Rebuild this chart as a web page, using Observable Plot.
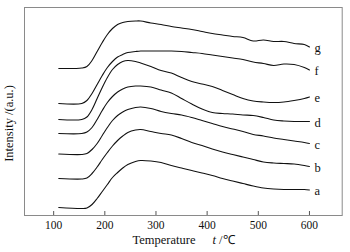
<!DOCTYPE html>
<html><head><meta charset="utf-8">
<script src="https://cdn.jsdelivr.net/npm/d3@7"></script>
<script src="https://cdn.jsdelivr.net/npm/@observablehq/plot@0.6"></script>
<style>html,body{margin:0;padding:0;background:#fff;}</style>
</head><body><div id="chart"></div>
<script>
// Temperature grid (°C)
const temperature = [110,155,165,175,185,195,205,215,225,235,245,260,270,290,310,330,350,370,390,410,430,450,470,490,510,530,550,570,590,600];
// Intensity (a.u.), curves stacked as in the figure
const seriesA = [8,7,7.5,11,17,24,31,38,43,47.5,51,54,55,54.5,53,50,47.5,45,42.5,40,37,34.5,32,29.5,27.5,26.5,26,26,26,25.5];
const seriesB = [37,36.5,37.5,42,48.5,56,63,69.5,75,79.5,83,85.5,86,84,82,80.5,77,73,70,66.5,63.5,61,58.5,56,53.5,52.5,52,51.5,50,49];
const seriesC = [61.5,61,62,66,72,80,88,95,100,103.5,106,108,108.5,107,104,102,100.5,98,95,92,89,86.5,84,81,79.5,77.5,76,74.5,73,72];
const seriesD = [82,82,83.5,88,96,105,113,119,123.5,126.5,128.5,129.5,129.5,128.5,125.5,122.5,117,111.5,106.5,103,102,101.5,100.5,100,98,95.5,94.5,94,94,94];
const seriesE = [96,96,98.5,106,117,128,138,146,151,154,155,154,152.5,149,145,142.5,138,134,131.5,129,125,121,117,114.5,113.5,113,113.5,115,117,118.5];
const seriesF = [112,112,115,122,131,140,148,154,158.5,161,163,164,164.5,164.5,164.5,164.5,164,163,162,160.5,159,157.5,156,153.5,152,150,151.5,151,148,145.5];
const seriesG = [147,147.5,149,155,164,173,181,187,191,193,194,194.5,194.5,192.5,191,189,187.5,186,184,182,180.5,179,178,174.5,175.5,174,174,172,171,168.5];
const seriesNames = ["a","b","c","d","e","f","g"];
const xTicks = [100,200,300,400,500,600];

const allSeries = [seriesA,seriesB,seriesC,seriesD,seriesE,seriesF,seriesG];
const rows = [];
allSeries.forEach((vals, i) => {
  vals.forEach((v, j) => rows.push({s: seriesNames[i], T: temperature[j], v}));
});

const chart = Plot.plot({
  width: 350,
  height: 252,
  marginLeft: 24,
  marginRight: 8.3,
  marginTop: 7,
  marginBottom: 37,
  style: {fontFamily: "'Liberation Serif', 'Times New Roman', serif", fontSize: "11.5px", background: "#fff", color: "#111"},
  x: {domain: [43, 664], label: null},
  y: {domain: [0, 208], axis: null},
  marks: [
    Plot.frame({stroke: "#8a8a8a"}),
    Plot.ruleX(xTicks, {x: d => d, y1: 0, y2: 4, stroke: "#555"}),
    Plot.axisX({ticks: xTicks, tickSize: 0, tickPadding: 5, label: null, tickFormat: d => String(d), fill: "#111"}),
    Plot.line(rows, {x: "T", y: "v", z: "s", stroke: "#111", strokeWidth: 1.1, curve: "catmull-rom"}),
    Plot.text(rows, Plot.selectLast({x: "T", y: "v", z: "s", text: "s", dx: 5, dy: 1, textAnchor: "start", fontSize: 12.5, fill: "#111"}))
  ]
});
document.getElementById("chart").append(chart);

const svg = d3.select(chart);
const xt = svg.append("text")
  .attr("x", 183.5).attr("y", 244)
  .attr("text-anchor", "middle")
  .attr("font-size", 12.5)
  .attr("fill", "#111");
xt.append("tspan").text("Temperature");
xt.append("tspan").attr("dx", 17).attr("font-style", "italic").text("t");
xt.append("tspan").text(" /\u2103");

svg.append("text")
  .attr("transform", "translate(13,123.5) rotate(-90)")
  .attr("text-anchor", "middle")
  .attr("font-size", 12.5)
  .attr("fill", "#111")
  .text("Intensity /(a.u.)");
</script>
</body></html>
